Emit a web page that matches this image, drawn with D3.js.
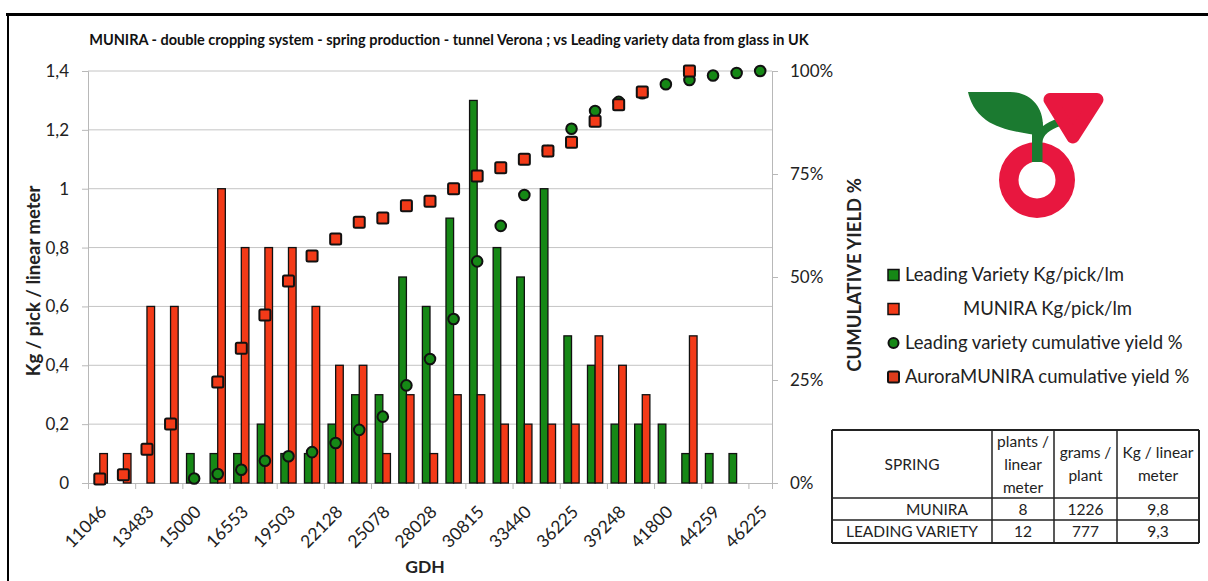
<!DOCTYPE html>
<html>
<head>
<meta charset="utf-8">
<script src="https://cdn.jsdelivr.net/npm/d3@7"></script>
<style>
  body { margin: 0; background: #fff; }
  svg { display: block; font-family: Lato, "Open Sans", sans-serif; }
</style>
</head>
<body>
<div class="plot"></div>
<script>
/* data */
const gdhLabels = ["11046","13483","15000","16553","19503","22128","25078","28028",
                   "30815","33440","36225","39248","41800","44259","46225"]; // every 2nd pick labelled
const leadingKg = [0,0,0,0,0.1,0.1,0.1,0.2,0.1,0.1,0.2,0.3,0.3,0.7,0.6,0.9,1.3,0.8,0.7,1.0,
                   0.5,0.4,0.2,0.2,0.2,0.1,0.1,0.1,0];
const muniraKg  = [0.1,0.1,0.6,0.6,0,1.0,0.8,0.8,0.8,0.6,0.4,0.4,0.1,0.3,0.1,0.3,0.3,0.2,0.2,0.2,
                   0.2,0.5,0.4,0.3,0,0.5,0,0,0];
const leadingCum = [null,null,null,null,1.1,2.2,3.2,5.4,6.5,7.5,9.7,12.9,16.1,23.7,30.1,39.8,
                    53.8,62.4,69.9,80.6,86.0,90.3,92.5,94.6,96.8,97.8,98.9,99.5,100];
const muniraCum  = [1,2,8.2,14.3,null,24.5,32.7,40.8,49,55.1,59.2,63.3,64.3,67.3,68.4,71.4,
                    74.5,76.5,78.6,80.6,82.7,87.8,91.8,94.9,null,100,null,null,null];
const yTicks = [0,0.2,0.4,0.6,0.8,1,1.2,1.4];
const pctTicks = [0,25,50,75,100];
const legendItems = ["Leading Variety Kg/pick/lm", "MUNIRA Kg/pick/lm",
                     "Leading variety cumulative yield %", "AuroraMUNIRA cumulative yield %"];
const tableHead = [["SPRING"], ["plants /","linear","meter"], ["grams /","plant"], ["Kg / linear","meter"]];
const tableRows = [["MUNIRA","8","1226","9,8"], ["LEADING VARIETY","12","777","9,3"]];

const green = "#168816", red = "#f33a18", red2 = "#e03c1c";
const W = 1208, H = 581;
const plotL = 88, plotR = 772, plotT = 71, plotB = 483;

const svg = d3.select(".plot").append("svg").attr("width", W).attr("height", H);

/* frame */
svg.append("line").attr("x1", 6).attr("x2", W).attr("y1", 14.5).attr("y2", 14.5)
  .attr("stroke", "#000").attr("stroke-width", 3);
svg.append("line").attr("x1", 8).attr("x2", 8).attr("y1", 13).attr("y2", H)
  .attr("stroke", "#000").attr("stroke-width", 2);

/* title */
svg.append("text").attr("x", 449).attr("y", 45).attr("text-anchor", "middle")
  .attr("font-size", 14.5).attr("font-weight", "bold").attr("fill", "#111")
  .text("MUNIRA - double cropping system - spring production - tunnel Verona ; vs Leading variety data from glass in UK");

/* scales */
const picks = d3.range(leadingKg.length);
const x = d3.scaleBand().domain(picks).range([plotL, plotR]).paddingInner(0.355).paddingOuter(0.1775);
const xs = d3.scaleBand().domain(["leading", "munira"]).range([0, x.bandwidth()]);
const xEdge = d3.scaleLinear().domain([0, picks.length]).range([plotL, plotR]);
const y = d3.scaleLinear().domain([0, 1.4]).range([plotB, plotT]);
const yR = d3.scaleLinear().domain([0, 100]).range([plotB, plotT]);
const comma = d3.formatLocale({decimal: ",", thousands: ".", grouping: [3], currency: ["", "€"]}).format(".1~f");

/* gridlines */
svg.append("g").selectAll("line").data(yTicks.slice(1)).join("line")
  .attr("x1", plotL).attr("x2", plotR).attr("y1", d => y(d)).attr("y2", d => y(d))
  .attr("stroke", "#c4c4c4").attr("stroke-width", 1);

/* left axis */
const yGroup = svg.append("g").attr("transform", `translate(${plotL},0)`)
  .call(d3.axisLeft(y).tickValues(yTicks).tickFormat(comma).tickSizeOuter(0).tickSize(6).tickPadding(13));
yGroup.selectAll("line, path").attr("stroke", "#b8b8b8");
yGroup.selectAll("text").attr("font-size", 17).attr("fill", "#222").attr("font-family", "Lato");

/* right axis */
const rGroup = svg.append("g").attr("transform", `translate(${plotR},0)`)
  .call(d3.axisRight(yR).tickValues(pctTicks).tickFormat(d => d + "%").tickSizeOuter(0).tickSize(6).tickPadding(12));
rGroup.selectAll("line, path").attr("stroke", "#b8b8b8");
rGroup.selectAll("text").attr("font-size", 17).attr("fill", "#222").attr("font-family", "Lato");

/* bottom axis */
const xGroup = svg.append("g").attr("transform", `translate(0,${plotB})`)
  .call(d3.axisBottom(xEdge).tickValues(d3.range(0, picks.length + 1, 2)).tickFormat("").tickSizeOuter(0).tickSize(6));
xGroup.selectAll("line, path").attr("stroke", "#b8b8b8");

svg.append("g").selectAll("text").data(gdhLabels).join("text")
  .attr("transform", (d, i) => `translate(${x(i * 2) + x.bandwidth() / 2 + 8},513) rotate(-45)`)
  .attr("text-anchor", "end").attr("font-size", 17.5).attr("fill", "#222")
  .text(d => d);

/* axis titles */
svg.append("text").attr("transform", "translate(40,281) rotate(-90)").attr("text-anchor", "middle")
  .attr("font-size", 18.5).attr("font-weight", "bold").attr("fill", "#222").text("Kg / pick / linear meter");
svg.append("text").attr("transform", "translate(861,275) rotate(-90)").attr("text-anchor", "middle")
  .attr("font-size", 18.5).attr("font-weight", "bold").attr("fill", "#222").text("CUMULATIVE YIELD %");
svg.append("text").attr("x", 425).attr("y", 573).attr("text-anchor", "middle")
  .attr("font-size", 17.5).attr("font-weight", "bold").attr("fill", "#222").text("GDH");

/* bars */
const bars = svg.append("g");
bars.selectAll(".lead").data(picks.filter(i => leadingKg[i] > 0)).join("rect").attr("class", "lead")
  .attr("x", i => x(i) + xs("leading")).attr("width", xs.bandwidth())
  .attr("y", i => y(leadingKg[i])).attr("height", i => plotB - y(leadingKg[i]))
  .attr("fill", green).attr("stroke", "#111").attr("stroke-width", 1.3);
bars.selectAll(".mun").data(picks.filter(i => muniraKg[i] > 0)).join("rect").attr("class", "mun")
  .attr("x", i => x(i) + xs("munira")).attr("width", xs.bandwidth())
  .attr("y", i => y(muniraKg[i])).attr("height", i => plotB - y(muniraKg[i]))
  .attr("fill", red).attr("stroke", "#111").attr("stroke-width", 1.3);

/* cumulative markers */
const cx = i => x(i) + x.bandwidth() / 2;
svg.append("g").selectAll("circle").data(picks.filter(i => leadingCum[i] != null)).join("circle")
  .attr("cx", cx).attr("cy", i => yR(leadingCum[i])).attr("r", 5.3)
  .attr("fill", green).attr("stroke", "#111").attr("stroke-width", 2);
svg.append("g").selectAll("rect").data(picks.filter(i => muniraCum[i] != null)).join("rect")
  .attr("x", i => cx(i) - 5.5).attr("y", i => yR(muniraCum[i]) - 5.5)
  .attr("width", 11).attr("height", 11).attr("rx", 1.5)
  .attr("fill", red).attr("stroke", "#111").attr("stroke-width", 2);

/* legend */
const legend = svg.append("g").attr("transform", "translate(888,0)");
const rows = [275, 309, 343, 377];
legend.append("rect").attr("x", 0).attr("y", rows[0] - 5.5).attr("width", 11).attr("height", 11)
  .attr("fill", green).attr("stroke", "#111").attr("stroke-width", 1.5);
legend.append("rect").attr("x", 0).attr("y", rows[1] - 5.5).attr("width", 11).attr("height", 11)
  .attr("fill", red).attr("stroke", "#111").attr("stroke-width", 1.5);
legend.append("circle").attr("cx", 5.5).attr("cy", rows[2]).attr("r", 5)
  .attr("fill", green).attr("stroke", "#111").attr("stroke-width", 2);
legend.append("rect").attr("x", 0).attr("y", rows[3] - 5.5).attr("width", 11).attr("height", 11).attr("rx", 1.5)
  .attr("fill", red2).attr("stroke", "#111").attr("stroke-width", 2);
legend.selectAll("text").data(legendItems).join("text")
  .attr("x", (d, i) => i === 1 ? 75 : 17).attr("y", (d, i) => rows[i] + 6)
  .attr("font-size", 18.5).attr("fill", "#222").text(d => d);

/* logo */
const logo = svg.append("g");
logo.append("path").attr("fill", "#1b7a30")
  .attr("d", "M968,92 L1010,92 C1030,92 1043,106 1043,126 L1043,136 C1022,133 1000,130 986,120 C975,112 970,101 968,92 Z");
logo.append("path").attr("fill", "none").attr("stroke", "#1b7a30").attr("stroke-width", 8)
  .attr("d", "M1038,142 C1040,131 1048,126 1060,122");
logo.append("path").attr("fill", "#e8173f").attr("stroke", "#e8173f").attr("stroke-width", 13).attr("stroke-linejoin", "round")
  .attr("d", "M1050,99.5 L1097,99.5 L1073,137 Z");
logo.append("path").attr("fill", "#e8173f").attr("fill-rule", "evenodd")
  .attr("d", d3.arc()({innerRadius: 0, outerRadius: 38, startAngle: 0, endAngle: 2 * Math.PI}) +
             d3.arc()({innerRadius: 0, outerRadius: 18.5, startAngle: 0, endAngle: 2 * Math.PI}))
  .attr("transform", "translate(1037,180)");
logo.append("rect").attr("x", 1032).attr("y", 122).attr("width", 10.5).attr("height", 40).attr("fill", "#1b7a30");

/* table */
const cols = [832, 992, 1054, 1117, 1199];
const rowY = [430, 498, 520, 543];
const table = svg.append("g");
table.selectAll(".h").data(rowY).join("line").attr("class", "h")
  .attr("x1", cols[0]).attr("x2", cols[4]).attr("y1", d => d).attr("y2", d => d)
  .attr("stroke", "#222").attr("stroke-width", (d, i) => i === 0 || i === 3 ? 2 : 1.5);
table.selectAll(".v").data(cols).join("line").attr("class", "v")
  .attr("x1", d => d).attr("x2", d => d).attr("y1", rowY[0]).attr("y2", rowY[3])
  .attr("stroke", "#222").attr("stroke-width", (d, i) => i === 0 || i === 4 ? 2 : 1.5);
tableHead.forEach((lines, c) => {
  const mid = (cols[c] + cols[c + 1]) / 2;
  const y0 = (rowY[0] + rowY[1]) / 2 - (lines.length - 1) * 11.5;
  lines.forEach((t, k) => {
    table.append("text").attr("x", mid).attr("y", y0 + k * 23 + 5.5).attr("text-anchor", "middle")
      .attr("font-size", 15.5).attr("fill", "#222").text(t);
  });
});
tableRows.forEach((row, r) => {
  row.forEach((t, c) => {
    const mid = (cols[c] + cols[c + 1]) / 2 + (r === 0 && c === 0 ? 25 : 0);
    table.append("text").attr("x", mid).attr("y", (rowY[r + 1] + rowY[r + 2]) / 2 + 5.5)
      .attr("text-anchor", "middle").attr("font-size", 15.5).attr("fill", "#222").text(t);
  });
});
</script>
</body>
</html>
